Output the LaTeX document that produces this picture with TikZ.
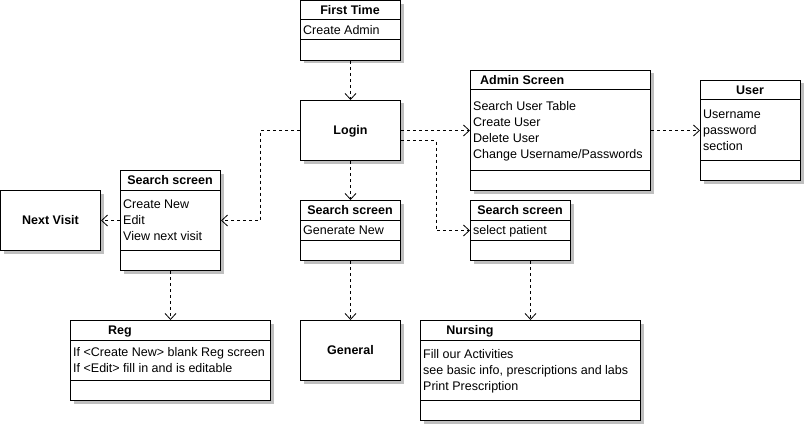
\documentclass[tikz,border=0pt]{standalone}
\usepackage{fontspec}
\setmainfont{Liberation Sans}
\usetikzlibrary{arrows.meta,shadows,calc}
\begin{document}
\begin{tikzpicture}[x=1pt,y=-1pt,
  font=\fontsize{12.5}{15}\selectfont,
  box/.style={draw=black,line width=1pt,fill=white,anchor=north west,inner sep=0pt,
    drop shadow={shadow xshift=3pt,shadow yshift=-3pt,fill=black!25,opacity=1}},
  hdr/.style={font=\fontsize{12.5}{15}\selectfont\bfseries,inner sep=0pt,
    text height=9pt,text depth=2.6pt,yshift=-1.2pt},
  attr/.style={anchor=west,inner sep=0pt,text height=9pt,text depth=2.6pt,yshift=-1.2pt},
  sep/.style={line width=1pt},
  conn/.style={line width=0.8pt,dash pattern=on 3pt off 3pt,
    -{Straight Barb[length=6pt,width=11pt,line width=0.8pt]}}]
\useasboundingbox (0,0) rectangle (805,425);
% boxes
\node[box,minimum width=100pt,minimum height=59.5pt] (ft) at (300,0.5) {};
\node[box,minimum width=100pt,minimum height=60pt] (login) at (300,100) {};
\node[box,minimum width=180pt,minimum height=120pt] (admin) at (470,70) {};
\node[box,minimum width=100pt,minimum height=100pt] (user) at (700,80) {};
\node[box,minimum width=100pt,minimum height=100pt] (ssl) at (120,170) {};
\node[box,minimum width=100pt,minimum height=60pt] (nv) at (0,190) {};
\node[box,minimum width=100pt,minimum height=60pt] (ssm) at (300,200) {};
\node[box,minimum width=100pt,minimum height=60pt] (ssr) at (470,200) {};
\node[box,minimum width=200pt,minimum height=80pt] (reg) at (70,320) {};
\node[box,minimum width=100pt,minimum height=60pt] (gen) at (300,320) {};
\node[box,minimum width=220pt,minimum height=100pt] (nur) at (420,320) {};
% dividers
\draw[sep] (300,20) -- (400,20) (300,40) -- (400,40);
\draw[sep] (470,90) -- (650,90) (470,170) -- (650,170);
\draw[sep] (700,100) -- (800,100) (700,160) -- (800,160);
\draw[sep] (120,190) -- (220,190) (120,250) -- (220,250);
\draw[sep] (300,220) -- (400,220) (300,240) -- (400,240);
\draw[sep] (470,220) -- (570,220) (470,240) -- (570,240);
\draw[sep] (70,340) -- (270,340) (70,380) -- (270,380);
\draw[sep] (420,340) -- (640,340) (420,400) -- (640,400);
% titles
\node[hdr] (tft) at (350,10.5) {First Time};
\node[hdr] (tlogin) at (login.center) {Login};
\node[hdr,anchor=west] (tadmin) at (480,80) {Admin Screen};
\node[hdr] (tuser) at (750,90) {User};
\node[hdr] (tssl) at (170,180) {Search screen};
\node[hdr] (tnv) at (nv.center) {Next Visit};
\node[hdr] (tssm) at (350,210) {Search screen};
\node[hdr] (tssr) at (520,210) {Search screen};
\node[hdr] (treg) at (120,330) {Reg};
\node[hdr] (tgen) at (gen.center) {General};
\node[hdr] (tnur) at (470,330) {Nursing};
% attributes
\node[attr] (a1) at (303,30.5) {Create Admin};
\node[attr] (a2) at (473,106.5) {Search User Table};
\node[attr] (a3) at (473,122.5) {Create User};
\node[attr] (a4) at (473,138.5) {Delete User};
\node[attr] (a5) at (473,154.5) {Change Username/Passwords};
\node[attr] (a6) at (703,114.5) {Username};
\node[attr] (a7) at (703,130.5) {password};
\node[attr] (a8) at (703,146.5) {section};
\node[attr] (a9) at (123,204.5) {Create New};
\node[attr] (a10) at (123,220.5) {Edit};
\node[attr] (a11) at (123,236.5) {View next visit};
\node[attr] (a12) at (303,230.5) {Generate New};
\node[attr] (a13) at (473,230.5) {select patient};
\node[attr] (a14) at (73,352.5) {If <Create New> blank Reg screen};
\node[attr] (a15) at (73,368.5) {If <Edit> fill in and is editable};
\node[attr] (a16) at (423,354.5) {Fill our Activities};
\node[attr] (a17) at (423,370.5) {see basic info, prescriptions and labs};
\node[attr] (a18) at (423,386.5) {Print Prescription};
% connectors
\draw[conn] (ft.south) -- (login.north);
\draw[conn] (login.east) -- (admin.west);
\draw[conn] (admin.east) -- (user.west);
\draw[conn] (login.west) -- ++(-40,0) |- (ssl.east);
\draw[conn] (login.south) -- (ssm.north);
\draw[conn] ($(login.east)+(0,10)$) -- ++(35,0) |- (ssr.west);
\draw[conn] (ssl.west) -- (nv.east);
\draw[conn] (ssl.south) -- (reg.north);
\draw[conn] (ssm.south) -- (gen.north);
\draw[conn] (nur.north |- ssr.south) -- (nur.north);
\end{tikzpicture}
\end{document}
